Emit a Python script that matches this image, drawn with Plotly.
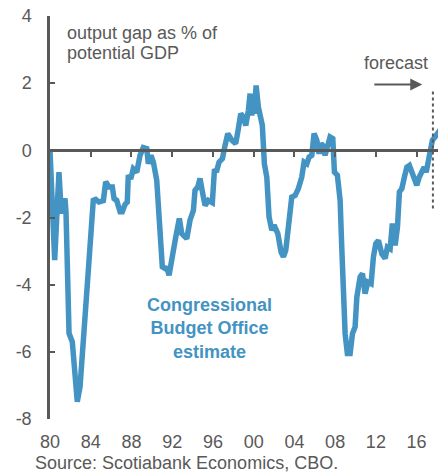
import plotly.graph_objects as go

# output gap, % of potential GDP (CBO estimate)
years = [
    1980.00, 1980.46, 1980.88, 1981.11, 1981.47, 1981.57, 1981.87, 1982.19,
    1982.68, 1982.95, 1983.51, 1984.00, 1984.25, 1984.49, 1984.81, 1985.24,
    1985.47, 1985.80, 1986.12, 1986.29, 1986.55, 1986.88, 1987.10, 1987.37,
    1987.59, 1987.69, 1987.93, 1988.18, 1988.52, 1988.84, 1989.16, 1989.50,
    1989.66, 1989.92, 1990.15, 1990.48, 1990.81, 1991.03, 1991.30, 1991.46,
    1991.69, 1991.95, 1992.35, 1992.70, 1992.94, 1993.43, 1993.75, 1994.08,
    1994.24, 1994.51, 1994.73, 1995.00, 1995.23, 1995.55, 1995.94, 1996.14,
    1996.38, 1996.60, 1996.93, 1997.19, 1997.46, 1997.85, 1998.24, 1998.50,
    1998.73, 1998.99, 1999.22, 1999.48, 1999.65, 1999.81, 1999.97, 2000.07,
    2000.24, 2000.46, 2000.85, 2001.05, 2001.29, 2001.51, 2001.78, 2002.00,
    2002.37, 2002.69, 2002.92, 2003.15, 2003.41, 2003.74, 2004.07, 2004.39,
    2004.72, 2004.95, 2005.22, 2005.44, 2005.71, 2005.93, 2006.20, 2006.42,
    2006.62, 2006.79, 2007.01, 2007.24, 2007.50, 2007.77, 2007.93, 2008.22,
    2008.49, 2008.65, 2008.81, 2008.98, 2009.20, 2009.47, 2009.70, 2009.96,
    2010.13, 2010.45, 2010.68, 2010.94, 2011.21, 2011.53, 2011.76, 2011.99,
    2012.25, 2012.58, 2012.91, 2013.13, 2013.40, 2013.62, 2013.89, 2014.12,
    2014.31, 2014.55, 2014.80, 2015.04, 2015.29, 2015.53, 2015.79, 2016.02,
    2016.25, 2016.51, 2016.74, 2016.94, 2017.16, 2017.33, 2017.55, 2017.82,
    2018.05, 2018.40,
]
gap = [
    0.00, -3.27, -0.65, -1.88, -1.43, -1.83, -5.45, -5.70,
    -7.49, -7.04, -4.66, -2.38, -1.49, -1.46, -1.54, -1.50,
    -0.94, -1.09, -1.09, -1.44, -1.49, -1.83, -1.83, -1.61,
    -1.54, -0.74, -0.85, -0.55, -0.65, -0.15, 0.08, 0.05,
    -0.40, -0.15, -0.35, -0.89, -2.28, -3.47, -3.52, -3.47,
    -3.72, -3.17, -2.58, -2.03, -2.48, -2.63, -2.08, -1.79,
    -1.19, -1.09, -0.84, -1.29, -1.64, -1.49, -1.56, -0.62,
    -0.60, -0.35, -0.25, 0.15, 0.50, 0.30, 0.20, 0.65,
    1.09, 0.99, 0.74, 1.19, 1.69, 1.04, 1.64, 1.09,
    1.93, 1.29, 0.74, -0.40, -0.80, -1.98, -2.38, -2.23,
    -2.48, -3.03, -3.17, -2.98, -2.08, -1.39, -1.34, -1.14,
    -0.80, -0.35, -0.40, -0.20, -0.15, 0.50, 0.30, -0.10,
    0.20, 0.15, -0.15, 0.10, 0.40, 0.35, -0.65, -0.74,
    -1.49, -2.88, -4.27, -5.46, -6.05, -6.05, -5.46, -5.26,
    -4.37, -3.77, -3.67, -4.27, -3.92, -3.97, -3.17, -2.78,
    -2.68, -3.08, -3.22, -2.88, -2.93, -2.18, -2.83, -2.28,
    -1.24, -1.14, -0.80, -0.50, -0.45, -0.65, -0.89, -1.04,
    -0.80, -0.60, -0.50, -0.65, -0.30, 0.10, 0.30, 0.40,
    0.50, 0.65,
]

y_ticks = [4, 2, 0, -2, -4, -6, -8]
y_labels = ["4", "2", "0", "-2", "-4", "-6", "-8"]
x_ticks = [1980, 1984, 1988, 1992, 1996, 2000, 2004, 2008, 2012, 2016]
x_labels = ["80", "84", "88", "92", "96", "00", "04", "08", "12", "16"]

forecast_start = 2017.6

BLUE = "#4393c3"
GREY = "#595959"
FONT = "Liberation Sans, Arial, sans-serif"

fig = go.Figure()

fig.add_trace(go.Scatter(
    x=years, y=gap, mode="lines",
    line=dict(color=BLUE, width=5.5),
    hoverinfo="skip", showlegend=False,
))
# empty trace so the zero-line axis gets drawn
fig.add_trace(go.Scatter(x=[1990], y=[0], xaxis="x2", mode="markers",
                         marker=dict(opacity=0), showlegend=False, hoverinfo="skip"))

# forecast divider
fig.add_shape(type="line", x0=forecast_start, x1=forecast_start, y0=1.75, y1=-1.8,
              line=dict(color=GREY, width=2, dash="dot"))

fig.add_annotation(x=2016.55, y=1.96, ax=2011.7, ay=1.96, axref="x", ayref="y",
                   showarrow=True, arrowhead=2, arrowsize=1.2, arrowwidth=2,
                   arrowcolor=GREY, text="")
fig.add_annotation(x=2014.0, y=2.6, text="forecast", showarrow=False,
                   font=dict(size=18, color=GREY, family=FONT))

fig.add_annotation(xref="paper", yref="paper", x=0.038, y=0.958, xanchor="left",
                   yanchor="middle", text="output gap as % of", showarrow=False,
                   font=dict(size=18, color=GREY, family=FONT))
fig.add_annotation(xref="paper", yref="paper", x=0.038, y=0.908, xanchor="left",
                   yanchor="middle", text="potential GDP", showarrow=False,
                   font=dict(size=18, color=GREY, family=FONT))

fig.add_annotation(x=1995.7, y=-5.3, showarrow=False,
                   text="<b>Congressional<br>Budget Office<br>estimate</b>",
                   font=dict(size=18, color=BLUE, family=FONT))

fig.add_annotation(xref="paper", yref="paper", x=-0.044, y=-0.109, xanchor="left",
                   yanchor="middle", text="Source: Scotiabank Economics, CBO.",
                   showarrow=False, font=dict(size=18, color=GREY, family=FONT))

fig.update_layout(
    width=438, height=472,
    margin=dict(l=50, r=0, t=16, b=53),
    paper_bgcolor="white", plot_bgcolor="white",
    font=dict(family=FONT, size=18, color=GREY),
    xaxis=dict(
        range=[1980, 2018.1], tickvals=x_ticks, ticktext=x_labels,
        showline=False, showgrid=False, zeroline=False, automargin=False,
        ticks="outside", ticklen=6, tickcolor="rgba(0,0,0,0)",
        ticklabeloverflow="allow", tickfont=dict(size=18, color=GREY),
    ),
    xaxis2=dict(
        range=[1980, 2018.1], overlaying="x", anchor="free", position=8 / 12,
        side="bottom", showline=True, linecolor=GREY, linewidth=2.5,
        tickvals=x_ticks[1:], ticks="outside", ticklen=5, tickwidth=2,
        tickcolor=GREY, showticklabels=False, showgrid=False, zeroline=False,
    ),
    yaxis=dict(
        range=[-8, 4], tickvals=y_ticks, ticktext=y_labels, showline=True,
        linecolor=GREY, linewidth=2.5, ticks="inside", ticklen=5, tickwidth=2,
        tickcolor=GREY, showgrid=False, zeroline=False, ticklabelstandoff=12,
        ticklabeloverflow="allow", automargin=False,
        tickfont=dict(size=18, color=GREY),
    ),
)

# drop the default 8px page margin so the figure fills the window exactly
fig.write_html("out.html", config={"displayModeBar": False},
               post_script="document.body.style.margin = '0';")
